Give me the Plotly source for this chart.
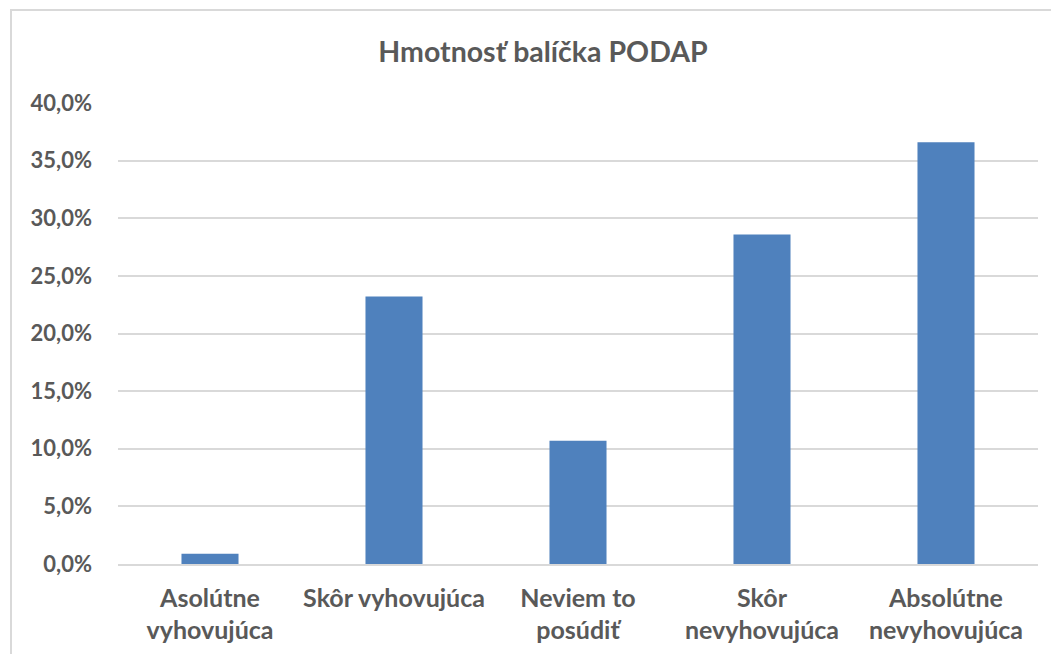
import plotly.graph_objects as go

categories = ["Asolútne<br>vyhovujúca", "Skôr vyhovujúca", "Neviem to<br>posúdiť",
              "Skôr<br>nevyhovujúca", "Absolútne<br>nevyhovujúca"]
values = [0.9, 23.2, 10.7, 28.6, 36.6]
tick_vals = [0, 5, 10, 15, 20, 25, 30, 35, 40]
tick_text = [f"{v:.1f}%".replace(".", ",") for v in tick_vals]

W, H = 1059, 654
OFF = 8  # page body offset
L, R, T, B = 118 - OFF, 21 + OFF, 103 - OFF, 90 + OFF
pw = W - L - R
ph = H - T - B

fig = go.Figure(go.Bar(x=categories, y=values, marker=dict(color="#4F81BD", line=dict(width=0)),
                       hoverinfo="x+y"))

font_fam = "Lato, 'Open Sans', sans-serif"
fig.update_layout(
    width=W, height=H,
    margin=dict(l=L, r=R, t=T, b=B),
    paper_bgcolor="white", plot_bgcolor="white",
    bargap=0.69,
    showlegend=False,
    title=dict(text="<b>Hmotnosť balíčka PODAP</b>", x=(543 - OFF - L) / pw, xref="paper",
               xanchor="center", y=1 - (52 - OFF) / H, yanchor="middle",
               font=dict(family=font_fam, size=28.5, color="#595959")),
    font=dict(family=font_fam, color="#595959"),
    xaxis=dict(showgrid=False, showline=True, linecolor="#D9D9D9", linewidth=1.5,
               ticks="", tickfont=dict(size=25, color="#595959", weight="bold"),
               ticklabelstandoff=11),
    yaxis=dict(range=[0, 40], tickvals=tick_vals, ticktext=tick_text,
               showgrid=True, gridcolor="#D9D9D9", gridwidth=1.5, zeroline=False,
               showline=False, ticks="",
               tickfont=dict(size=22, color="#595959", weight="bold"),
               ticklabelstandoff=25),
    shapes=[dict(type="rect", xref="paper", yref="paper",
                 x0=(11 - OFF - L) / pw, x1=(W + 20 - L) / pw,
                 y0=-(B + 20) / ph, y1=1 + (T - (10 - OFF)) / ph,
                 line=dict(color="#D9D9D9", width=2), fillcolor="rgba(0,0,0,0)", layer="below")],
)

fig.write_html("out.html")
